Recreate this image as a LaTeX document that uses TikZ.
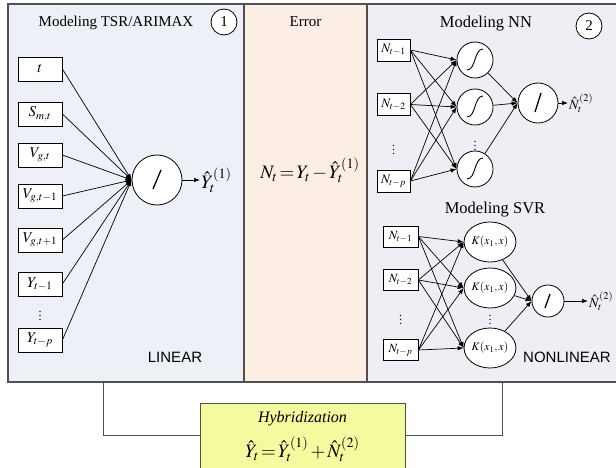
\documentclass[tikz,border=0pt]{standalone}
\usepackage{mathptmx}
\usepackage[no-math]{fontspec}
\setmainfont{Liberation Serif}
\setsansfont{Liberation Sans}
\usetikzlibrary{arrows.meta,calc,shapes.geometric}

\definecolor{panelA}{HTML}{EDF0F6}
\definecolor{panelB}{HTML}{FCEEE4}
\definecolor{panelC}{HTML}{F0EEF4}
\definecolor{hybfill}{HTML}{F4FA9E}
\definecolor{framecol}{HTML}{505050}

\newcommand{\fsz}[1]{\fontsize{#1}{#1}\selectfont}

\tikzset{
  frameline/.style={draw=framecol, line width=1.2pt},
  conn/.style={draw=framecol, line width=1pt},
  paneltitle/.style={anchor=base, inner sep=0pt, font=\fsz{15}},
  bigtitle/.style={anchor=base, inner sep=0pt, font=\fsz{16.5}},
  numcirc/.style={circle, draw, fill=white, line width=0.8pt, minimum size=26, inner sep=0pt, font=\fsz{15}},
  inbox/.style={draw, fill=white, line width=0.8pt, minimum width=44, minimum height=24, inner sep=0pt, font=\fsz{15}},
  nnbox/.style={draw, fill=white, line width=0.8pt, minimum width=33, minimum height=22, inner sep=0pt, font=\fsz{13}},
  svbox/.style={draw, fill=white, line width=0.8pt, minimum width=35, minimum height=21, inner sep=0pt, font=\fsz{12.5}},
  neuron/.style={circle, draw, fill=white, line width=0.8pt, inner sep=0pt},
  kernel/.style={ellipse, draw, fill=white, line width=0.8pt, minimum width=44, minimum height=40, inner sep=0pt, font=\fsz{11.5}},
  edge/.style={line width=0.7pt, -{Latex[length=6pt,width=4.5pt]}},
  slash/.style={line width=1.3pt},
  sig/.style={line width=0.9pt},
  regime/.style={font=\sffamily\fsz{15}, inner sep=0pt},
  vdotlabel/.style={inner sep=0pt, font=\fsz{12}},
}

\begin{document}
\begin{tikzpicture}[x=1pt,y=-1pt]
\useasboundingbox (0,0) rectangle (616,468);
\clip (0,0) rectangle (616,468);

% ---- panel backgrounds and frame ----
\fill[panelA] (8,4) rectangle (244,382);
\fill[panelB] (244,4) rectangle (367,382);
\fill[panelC] (367,4) rectangle (620,382);
\draw[frameline] (620,4) -- (8,4) -- (8,382) -- (620,382);
\draw[frameline] (244,4) -- (244,382);
\draw[frameline] (367,4) -- (367,382);

% ---- linear model (TSR/ARIMAX) ----
\node[paneltitle] (tA) at (116,27) {Modeling TSR/ARIMAX};
\node[numcirc] (n1) at (224,22) {1};

\node[inbox] (x1) at (40,69)  {$t$};
\node[inbox] (x2) at (40,114) {$S_{m,t}$};
\node[inbox] (x3) at (40,155) {$V_{g,t}$};
\node[inbox] (x4) at (40,196) {$V_{g,t-1}$};
\node[inbox] (x5) at (40,240) {$V_{g,t+1}$};
\node[inbox] (x6) at (40,284) {$Y_{t-1}$};
\node[vdotlabel] (xd) at (40,313) {$\vdots$};
\node[inbox] (x7) at (40,340) {$Y_{t-p}$};

\node[neuron, minimum size=50] (lin) at (157,180) {};
\draw[slash] ($(lin)+(-4,9)$) -- ($(lin)+(4,-10)$);
\foreach \i in {1,...,7} { \draw[edge] (x\i.east) -- (lin.west); }

\coordinate (linout) at (200,180);
\draw[edge] (lin.east) -- (linout);
\node[anchor=west, inner sep=1pt, font=\fsz{19}] (yl) at (linout) {$\hat{Y}_t^{(1)}$};

\node[regime] (linlab) at (175,357) {LINEAR};

% ---- error ----
\node[paneltitle] (tE) at (305.5,27) {Error};
\node[inner sep=0pt, font=\fsz{19}] (err) at (310,170) {$N_t\,{=}\,Y_t\,{-}\,\hat{Y}_t^{(1)}$};

% ---- neural network ----
\node[bigtitle] (tN) at (486,28) {Modeling NN};
\node[numcirc] (n2) at (589,26) {2};

\node[nnbox] (a1) at (393.5,50)  {$N_{t-1}$};
\node[nnbox] (a2) at (393.5,104.5) {$N_{t-2}$};
\node[vdotlabel] (ad) at (393.5,147) {$\vdots$};
\node[nnbox] (a3) at (393.5,181) {$N_{t-p}$};

\node[neuron, minimum size=36] (h1) at (475,60) {};
\node[neuron, minimum size=36] (h2) at (475,107) {};
\node[vdotlabel] (hd) at (475,143) {$\vdots$};
\node[neuron, minimum size=36] (h3) at (475,169) {};
\foreach \h in {h1,h2,h3} {
  \draw[sig] ($(\h)+(-8,10)$) .. controls ($(\h)+(1,10)$) and ($(\h)+(-1,-11)$) .. ($(\h)+(8,-11)$);
}
\foreach \a in {a1,a2,a3} { \foreach \h in {h1,h2,h3} { \draw[edge] (\a.east) -- (\h.west); } }

\node[neuron, minimum size=40] (o1) at (538,103) {};
\draw[slash] ($(o1)+(-3,9)$) -- ($(o1)+(3,-10)$);
\foreach \h in {h1,h2,h3} { \draw[edge] (\h) -- (o1.west); }
\coordinate (o1out) at (568,103);
\draw[edge] (o1.east) -- (o1out);
\node[anchor=west, inner sep=1pt, font=\fsz{14}] (nl1) at (o1out) {$\hat{N}_t^{(2)}$};

% ---- support vector regression ----
\node[bigtitle] (tS) at (495,213) {Modeling SVR};

\node[svbox] (b1) at (400.5,236.5) {$N_{t-1}$};
\node[svbox] (b2) at (400.5,280) {$N_{t-2}$};
\node[vdotlabel] (bd) at (400.5,317) {$\vdots$};
\node[svbox] (b3) at (400.5,350) {$N_{t-p}$};

\node[kernel] (k1) at (490,242) {$K(x_1,x)$};
\node[kernel] (k2) at (490,288) {$K(x_1,x)$};
\node[vdotlabel] (kd) at (490,317) {$\vdots$};
\node[kernel] (k3) at (490,348) {$K(x_1,x)$};
\foreach \b in {b1,b2,b3} { \foreach \k in {k1,k2,k3} { \draw[edge] (\b.east) -- (\k.west); } }

\node[neuron, minimum size=32] (o2) at (548,301) {};
\draw[slash] ($(o2)+(-3,7)$) -- ($(o2)+(2,-7)$);
\foreach \k in {k1,k2,k3} { \draw[edge] (\k) -- (o2.west); }
\coordinate (o2out) at (588,301);
\draw[edge] (o2.east) -- (o2out);
\node[anchor=west, inner sep=1pt, font=\fsz{14}] (nl2) at (o2out) {$\hat{N}_t^{(2)}$};

\node[regime] (nllab) at (567,357) {NONLINEAR};

% ---- hybridization ----
\node[draw=framecol, fill=hybfill, line width=1pt, minimum width=205, minimum height=70, inner sep=0pt, anchor=north west] (hyb) at (200,403) {};
\node[inner sep=0pt, font=\itshape\fsz{16}] (hybt) at (302.5,419) {Hybridization};
\node[inner sep=0pt, font=\fsz{19}] (hybf) at (302.5,449) {$\hat{Y}_t\,{=}\,\hat{Y}_t^{(1)}\,{+}\,\hat{N}_t^{(2)}$};

\coordinate (lbot) at (103,382);
\coordinate (rbot) at (502,382);
\draw[conn] (lbot) |- ($(hyb.north west)+(0,32)$);
\draw[conn] ($(hyb.north east)+(0,32)$) -| (rbot);
\end{tikzpicture}
\end{document}
